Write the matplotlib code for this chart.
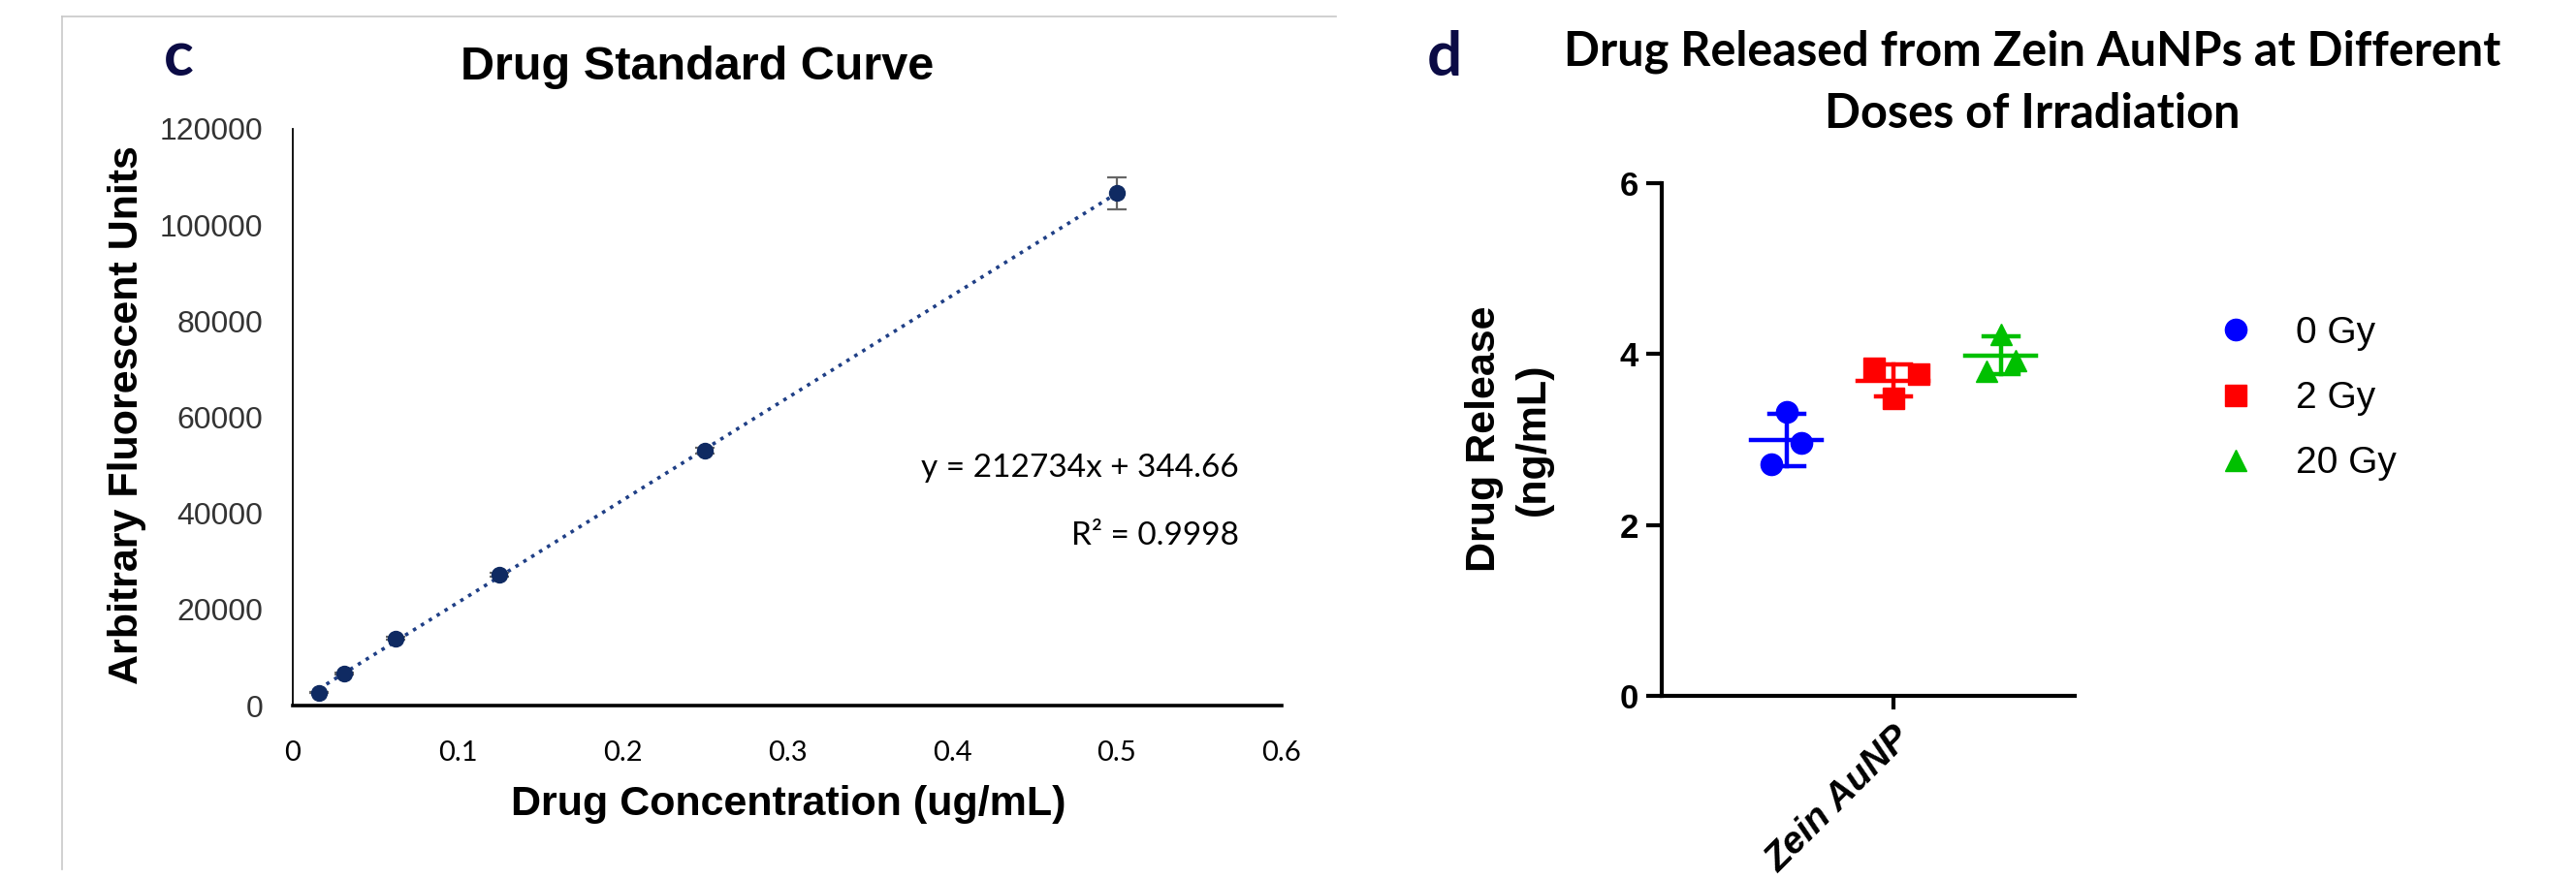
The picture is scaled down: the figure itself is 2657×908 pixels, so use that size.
import numpy as np
import matplotlib
matplotlib.use('Agg')
import matplotlib.pyplot as plt
from matplotlib.lines import Line2D

W, H = 2657, 908

# panel c: standard curve
conc = [0.015625, 0.03125, 0.0625, 0.125, 0.25, 0.5]
afu = [2700, 6700, 14000, 27300, 53000, 106600]
afu_err = [150, 200, 300, 400, 600, 3400]
eq_text = 'y = 212734x + 344.66'
r2_text = 'R² = 0.9998'

# panel d: drug release per dose
doses = ['0 Gy', '2 Gy', '20 Gy']
release = [[3.32, 2.96, 2.71],
           [3.83, 3.76, 3.48],
           [4.23, 3.93, 3.80]]
category = 'Zein AuNP'

plt.rcParams['font.family'] = ['Liberation Sans', 'DejaVu Sans']

fig = plt.figure(figsize=(W / 100, H / 100), dpi=100)

# light grey frame around panel c
fig.add_artist(Line2D([64 / W, 64 / W], [1 - 17 / H, 1 - 897 / H], color='#c8c8c8', lw=1.2))
fig.add_artist(Line2D([64 / W, 1378 / W], [1 - 17 / H, 1 - 17 / H], color='#c8c8c8', lw=1.2))

# ---- panel c ----
ax1 = fig.add_axes([302 / W, 1 - 728 / H, 1020 / W, 595 / H])
x = np.array(conc)
y = np.array(afu)
k, b = np.polyfit(x, y, 1)
xf = np.array([x[0], x[-1]])
ax1.plot(xf, k * xf + b, ':', color='#1f3f86', lw=2.6, zorder=2)
ax1.errorbar(x, y, yerr=afu_err, fmt='o', ms=11.5, color='#0f2a62', ecolor='#666666',
             elinewidth=1.6, capsize=7, capthick=1.6, zorder=3)
ax1.set_xlim(0, 0.6)
ax1.set_ylim(0, 120000)
ax1.set_xticks(np.arange(0, 0.61, 0.1))
ax1.set_xticklabels(['0', '0.1', '0.2', '0.3', '0.4', '0.5', '0.6'], family=['Lato', 'DejaVu Sans'], fontsize=21)
ax1.set_yticks(np.arange(0, 120001, 20000))
ax1.tick_params(axis='x', length=0, pad=26)
ax1.tick_params(axis='y', length=0, pad=22, labelsize=23, labelcolor='#333333')
for s in ['top', 'right']:
    ax1.spines[s].set_visible(False)
ax1.spines['left'].set_linewidth(1.3)
ax1.spines['bottom'].set_linewidth(2.6)
ax1.set_xlabel('Drug Concentration (ug/mL)', fontsize=31, fontweight='bold', va='center')
ax1.xaxis.set_label_coords(0.501, -0.171)
ax1.set_ylabel('Arbitrary Fluorescent Units', fontsize=31, fontweight='bold', va='center')
ax1.yaxis.set_label_coords(-0.168, 0.504)
ax1.text(0.957, 0.412, eq_text, transform=ax1.transAxes, ha='right', va='center',
         fontsize=24, family=['Lato', 'DejaVu Sans'])
ax1.text(0.957, 0.294, r2_text, transform=ax1.transAxes, ha='right', va='center',
         fontsize=24, family=['Lato', 'DejaVu Sans'])
fig.text(719 / W, 1 - 70 / H, 'Drug Standard Curve', ha='center', va='center',
         fontsize=35, fontweight='bold')
fig.text(184 / W, 1 - 78 / H, 'c', ha='center', va='baseline', fontsize=46,
         fontweight='bold', color='#0b0b45', family=['Lato', 'DejaVu Sans'])

# ---- panel d ----
ax2 = fig.add_axes([1714 / W, 1 - 718 / H, 426 / W, 529 / H])
colors = ['#0000ff', '#ff0000', '#00c000']
markers = ['o', 's', '^']
offsets = [-0.22, 0.0, 0.222]
jitter = [[0, 0.03, -0.032], [-0.04, 0.052, 0], [0, 0.03, -0.03]]
for i, vals in enumerate(release):
    v = np.array(vals)
    cx = offsets[i]
    ax2.plot(cx + np.array(jitter[i]), v, linestyle='none', marker=markers[i], ms=16,
             color=colors[i], mec=colors[i], label=doses[i], zorder=3)
    m = v.mean()
    sd = v.std(ddof=1)
    ax2.plot([cx - 0.073, cx + 0.073], [m, m], color=colors[i], lw=3.2, zorder=4)
    ax2.plot([cx, cx], [m - sd, m + sd], color=colors[i], lw=3.2, zorder=4)
    for e in (m - sd, m + sd):
        ax2.plot([cx - 0.036, cx + 0.036], [e, e], color=colors[i], lw=3.2, zorder=4)
ax2.set_xlim(-0.478, 0.374)
ax2.set_ylim(0, 6)
ax2.set_yticks([0, 2, 4, 6])
ax2.set_xticks([0])
ax2.set_xticklabels([category], rotation=45, ha='right', va='top', rotation_mode='anchor',
                    fontsize=28, fontweight='bold', style='italic')
for s in ['top', 'right']:
    ax2.spines[s].set_visible(False)
for s in ['left', 'bottom']:
    ax2.spines[s].set_linewidth(3)
ax2.tick_params(axis='y', length=11.5, width=3, pad=6, labelsize=25)
ax2.tick_params(axis='x', length=10, width=3, pad=8)
for t in ax2.get_yticklabels():
    t.set_fontweight('bold')
ax2.set_ylabel('Drug Release\n(ng/mL)', fontsize=31, fontweight='bold', va='center', linespacing=1.35)
ax2.yaxis.set_label_coords(-0.369, 0.501)
ax2.legend(loc='upper left', bbox_to_anchor=(2288 / W, 1 - 326 / H), bbox_transform=fig.transFigure,
           frameon=False, fontsize=28, handlelength=0.95, handletextpad=1.1, labelspacing=0.8,
           borderpad=0, borderaxespad=0)
fig.text(2096 / W, 1 - 68 / H, 'Drug Released from Zein AuNPs at Different', ha='center',
         va='baseline', fontsize=35, fontweight='bold', family=['Lato', 'DejaVu Sans'])
fig.text(2096 / W, 1 - 132 / H, 'Doses of Irradiation', ha='center',
         va='baseline', fontsize=35, fontweight='bold', family=['Lato', 'DejaVu Sans'])
fig.text(1490 / W, 1 - 78 / H, 'd', ha='center', va='baseline', fontsize=46,
         fontweight='bold', color='#0b0b45', family=['Lato', 'DejaVu Sans'])

fig.savefig('out.png', dpi=100)
